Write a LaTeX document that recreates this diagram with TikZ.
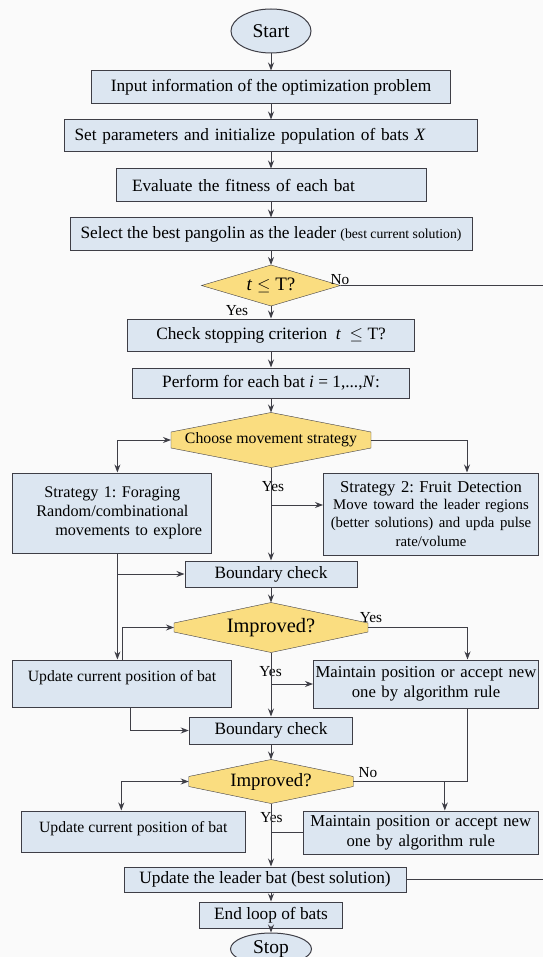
\documentclass[tikz,border=0pt]{standalone}
\usepackage{fontspec}
\setmainfont{Liberation Serif}
\usetikzlibrary{arrows.meta, shapes.geometric, backgrounds}
\definecolor{flowBlue}{RGB}{220,230,241}
\definecolor{flowYellow}{RGB}{250,221,128}
\definecolor{flowLine}{RGB}{62,62,70}
\definecolor{flowPaper}{RGB}{250,250,250}
\newcommand{\fs}[2]{\fontsize{#1}{#2}\selectfont}
\newcommand{\hexbox}[2]{%
  \begin{scope}[on background layer]
    \filldraw[fill=flowYellow, draw=flowLine] (#1.north) -- ([yshift=#2]#1.west) -- ([yshift=-#2]#1.west) -- (#1.south) -- ([yshift=-#2]#1.east) -- ([yshift=#2]#1.east) -- cycle;
  \end{scope}}
\frenchspacing
\begin{document}
\begin{tikzpicture}[x=1pt, y=-1pt, line width=1pt, >={Stealth[length=8pt, width=6pt]},
  box/.style={draw=flowLine, fill=flowBlue, inner sep=0pt, font=\fs{17.3}{20}},
  term/.style={ellipse, draw=flowLine, fill=flowBlue, inner sep=0pt, font=\fs{19.5}{22}},
  deci/.style={rectangle, inner sep=0pt},
  flow/.style={draw=flowLine},
  yn/.style={inner sep=0pt, font=\fs{15.3}{18}}]
  \useasboundingbox (0,0) rectangle (543,957);
  \clip (0,0) rectangle (543,957);
  \begin{scope}[on background layer]
    \fill[flowPaper] (0,0) rectangle (543,957);
  \end{scope}
  % start and set-up
  \node[term, minimum width=80pt, minimum height=44pt] (start) at (271,31) {Start};
  \node[box, minimum width=359pt, minimum height=33pt] (inp) at (271,87.5) {Input information of the optimization problem};
  \node[box, minimum height=32pt, text width=393pt, inner xsep=10pt, align=left] (setp) at (271,136) {Set parameters and initialize population of bats \textit{X}};
  \node[box, minimum height=33pt, text width=278pt, inner xsep=16pt, align=left] (eval) at (271,185.5) {Evaluate the fitness of each bat};
  \node[box, minimum width=402pt, minimum height=33pt] (sel) at (271,234.5) {Select the best pangolin as the leader {\fs{13.7}{16}(best current solution)}};
  % loop test
  \node[deci, minimum width=138pt, minimum height=40pt, font=\fs{19}{22}] (tchk) at (271,285.5) {\textit{t} $\leq$ T?};
  \hexbox{tchk}{0pt}
  \node[yn] (no1) at (340,280) {No};
  \node[yn] (yes1) at (237,311) {Yes};
  \coordinate (edge1) at (543,285.5);
  \node[box, minimum width=287.5pt, minimum height=32pt] (stopc) at (271,335) {Check stopping criterion \ \textit{t} \ $\leq$ T?};
  \node[box, minimum width=277pt, minimum height=30pt] (perf) at (271,383) {Perform for each bat \textit{i} = 1,...,\textit{N}:};
  % movement strategy
  \node[deci, minimum width=199pt, minimum height=54pt, font=\fs{15.8}{18}] (choose) at (271,440) {Choose movement strategy};
  \hexbox{choose}{8pt}
  \node[box, minimum width=199pt, minimum height=80pt, text width=195pt, align=center, font=\fs{16.2}{19}] (s1) at (112.4,513) {Strategy 1: Foraging\\Random/combinational\\\hspace*{2em}movements to explore};
  \node[box, minimum width=215pt, minimum height=82pt, text width=212pt, align=center, font=\fs{16.6}{19}] (s2) at (431,514) {Strategy 2: Fruit Detection\\\fs{14.8}{17.5}Move toward the leader regions\\(better solutions) and upda pulse\\rate/volume};
  \node[yn] (yes2) at (273,487) {Yes};
  \node[box, minimum width=172pt, minimum height=26pt] (bc1) at (271,574) {Boundary check};
  % first improvement test
  \node[deci, minimum width=193pt, minimum height=49pt, font=\fs{20.4}{24}] (im1) at (271,627.5) {Improved?};
  \hexbox{im1}{4.5pt}
  \node[yn] (yes3) at (371,618) {Yes};
  \node[box, minimum width=218.5pt, minimum height=47pt, text depth=15pt, font=\fs{15.7}{18}] (up1) at (122,683.5) {Update current position of bat};
  \node[yn] (yes4) at (270.6,672) {Yes};
  \node[box, minimum width=225pt, minimum height=48pt, text width=225pt, align=center, font=\fs{16.7}{20}] (mt1) at (426,684) {Maintain position or accept new\\one by algorithm rule};
  \node[box, minimum width=163.5pt, minimum height=27pt] (bc2) at (271,730.5) {Boundary check};
  % second improvement test
  \node[deci, minimum width=163.5pt, minimum height=43pt, font=\fs{18.8}{22}] (im2) at (271,781.5) {Improved?};
  \hexbox{im2}{5pt}
  \node[yn] (no2) at (368,773) {No};
  \node[box, minimum width=223.7pt, minimum height=41pt, text depth=9pt, font=\fs{15.7}{18}] (up2) at (133.3,831.5) {Update current position of bat};
  \node[yn] (yes5) at (271.5,818) {Yes};
  \node[box, minimum width=235.5pt, minimum height=43pt, text width=235pt, align=center, font=\fs{16.7}{20}] (mt2) at (420.8,832.5) {Maintain position or accept new\\one by algorithm rule};
  % leader and end
  \node[box, minimum width=282pt, minimum height=25pt] (lead) at (265,879.5) {Update the leader bat (best solution)};
  \node[box, minimum width=143.7pt, minimum height=26pt] (endl) at (271,915) {End loop of bats};
  \node[term, minimum width=81pt, minimum height=32pt] (stop) at (271,949) {Stop};
  % connectors
  \draw[flow, ->] (start.south) -- (inp.north);
  \draw[flow, ->] (inp.south) -- (setp.north);
  \draw[flow, ->] (setp.south) -- (eval.north);
  \draw[flow, ->] (eval.south) -- (sel.north);
  \draw[flow, ->] (sel.south) -- (tchk.north);
  \draw[flow] (tchk.east) -- (edge1);
  \draw[flow, ->] (tchk.south) -- (stopc.north);
  \draw[flow, ->] (stopc.south) -- (perf.north);
  \draw[flow, ->] (perf.south) -- (choose.north);
  \draw[flow, <->] (choose.west) -| ([xshift=5pt]s1.north);
  \draw[flow, ->] (choose.east) -| ([xshift=36pt]s2.north);
  \draw[flow, ->] (choose.south) -- (bc1.north);
  \draw[flow, ->] ([yshift=9pt]choose.south |- s2.west) -- ([yshift=9pt]s2.west);
  \draw[flow, ->] ([xshift=5pt]s1.south) -- ([xshift=5pt]s1.south |- up1.north);
  \draw[flow, ->] ([xshift=5pt]s1.south |- bc1.west) -- (bc1.west);
  \draw[flow, ->] (bc1.south) -- (im1.north);
  \draw[flow, ->] (im1.east) -| ([xshift=41.5pt]mt1.north);
  \draw[flow, <-] (im1.west) -| (up1.north);
  \draw[flow, ->] (im1.south) -- (bc2.north);
  \draw[flow, ->] (im1.south |- mt1.west) -- (mt1.west);
  \draw[flow, ->] ([xshift=8pt]up1.south) |- (bc2.west);
  \draw[flow, ->] (bc2.south) -- (im2.north);
  \draw[flow] ([xshift=41.5pt]mt1.south) |- (im2.east);
  \draw[flow, ->] ([xshift=24pt]mt2.north |- im2.east) -- ([xshift=24pt]mt2.north);
  \draw[flow, <->] (im2.west) -| ([xshift=-12pt]up2.north);
  \draw[flow, ->] (im2.south) -- (im2.south |- lead.north);
  \draw[flow] (im2.south |- mt2.west) -- (mt2.west);
  \draw[flow] (lead.east) -- (lead.east -| edge1);
  \draw[flow, ->] (endl.north |- lead.south) -- (endl.north);
  \draw[flow, ->] (endl.south) -- (stop.north);
\end{tikzpicture}
\end{document}
